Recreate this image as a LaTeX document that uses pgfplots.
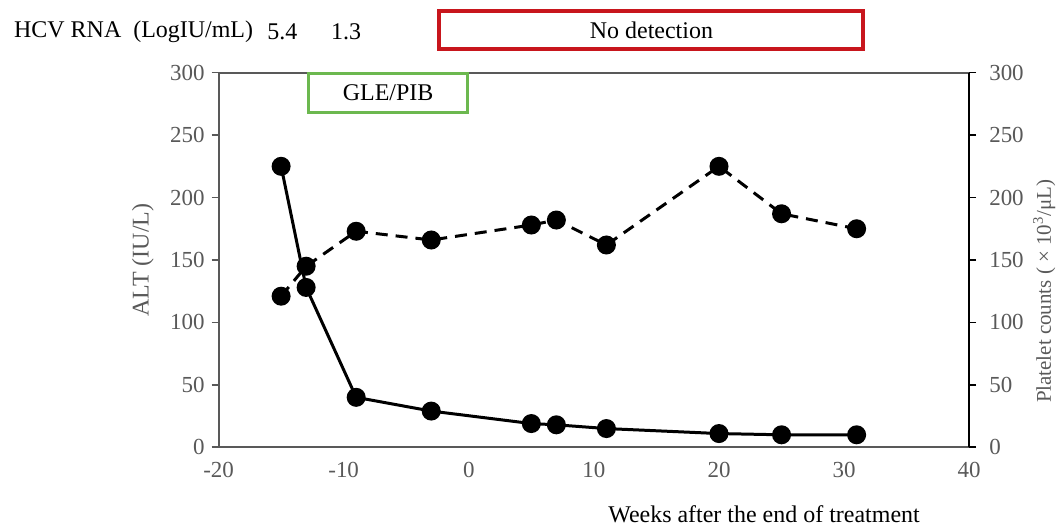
\documentclass[border=0pt]{standalone}
\usepackage{fontspec}
\setmainfont{Liberation Serif}
\usepackage{pgfplots}
\pgfplotsset{compat=1.18}
\definecolor{axgray}{HTML}{595959}
\definecolor{boxred}{HTML}{C8161D}
\definecolor{boxgreen}{HTML}{6CB84F}

\begin{document}
\begin{tikzpicture}
\pgfplotsset{every axis/.append style={
  scale only axis, width=375.9pt, height=187.6pt,
  xmin=-20, xmax=40, ymin=0, ymax=300,
  /pgf/number format/assume math mode=true,
  tick label style={font=\fontsize{11.5}{13}\selectfont, text=axgray},
}}
\begin{axis}[
  clip=false,
  axis line style={axgray, line width=1pt},
  xtick={-20,-10,...,40}, xtick pos=bottom, xtick style={draw=none},
  ytick={0,50,...,300}, ytick pos=left, ytick align=outside,
  ytick style={axgray, line width=0.8pt}, major tick length=3.5pt,
  xticklabel style={yshift=-4pt},
]
% ALT
\addplot[black, line width=1.5pt, mark=*, mark size=4pt] coordinates {
  (-15,225) (-13,128) (-9,40) (-3,29) (5,19) (7,18) (11,15) (20,11) (25,10) (31,10)
};
% platelets
\addplot[black, line width=1.5pt, dash pattern=on 6pt off 4pt, mark=*, mark size=4pt,
  mark options={solid}] coordinates {
  (-15,121) (-13,145) (-9,173) (-3,166) (5,178) (7,182) (11,162) (20,225) (25,187) (31,175)
};
\path (axis cs:-37.47,-62.6) rectangle (axis cs:47.29,358.2);
\node[anchor=west, font=\fontsize{12}{14}\selectfont] at (axis cs:-36.9,332.6) {HCV RNA\enspace(LogIU/mL)};
\node[font=\fontsize{12}{14}\selectfont] at (axis cs:-14.9,332.6) {5.4};
\node[font=\fontsize{12}{14}\selectfont] at (axis cs:-9.8,332.6) {1.3};
\draw[boxred, line width=2pt, fill=white] (axis cs:-2.35,319) rectangle (axis cs:31.5,349.4);
\node[font=\fontsize{12}{14}\selectfont] at (axis cs:14.6,334.2) {No detection};
\draw[boxgreen, line width=1.6pt, fill=white] (axis cs:-12.8,268) rectangle (axis cs:-0.1,299.5);
\node[font=\fontsize{12}{14}\selectfont] at (axis cs:-6.45,283.7) {GLE/PIB};
\node[rotate=90, text=axgray, font=\fontsize{12}{14}\selectfont] at (axis cs:-26.06,150) {ALT (IU/L)};
\node[rotate=90, text=axgray, font=\fontsize{10.5}{12}\selectfont] at (axis cs:46.0,125) {Platelet counts ( × 10\textsuperscript{3}/μL)};
\node[font=\fontsize{12}{14}\selectfont] at (axis cs:23.6,-54) {Weeks after the end of treatment};
\end{axis}
\begin{axis}[
  axis x line=none, axis y line*=right,
  axis line style={black, line width=0.8pt},
  ytick={0,50,...,300}, ytick align=outside,
  ytick style={black, line width=0.8pt}, major tick length=3.5pt,
  yticklabel style={xshift=3pt},
]
\addplot[draw=none] coordinates {(0,0)};
\end{axis}
\end{tikzpicture}
\end{document}
